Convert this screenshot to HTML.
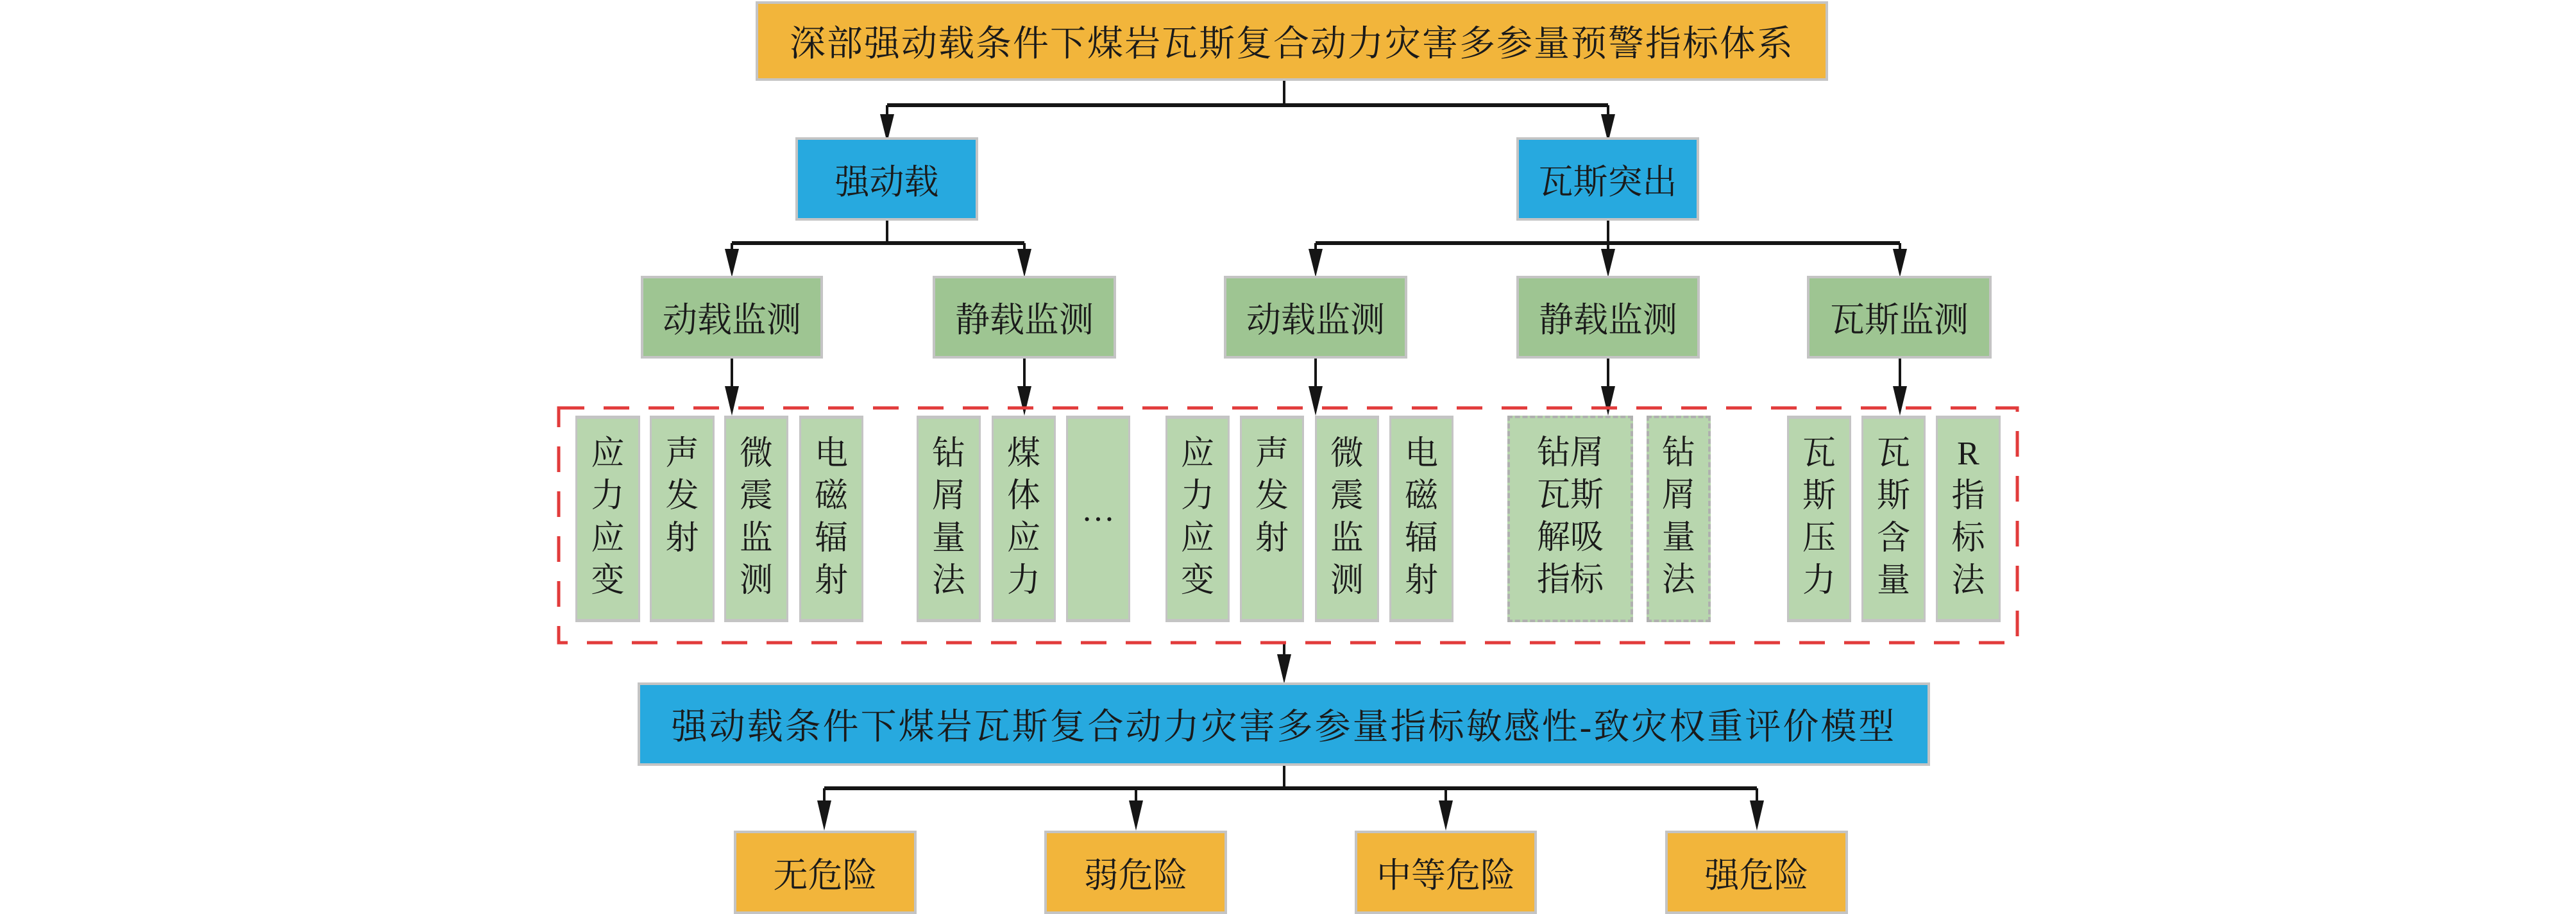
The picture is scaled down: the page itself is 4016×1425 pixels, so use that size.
<!DOCTYPE html>
<html><head><meta charset="utf-8"><style>
*{margin:0;padding:0;box-sizing:border-box}
body{width:4016px;height:1423px;background:#fff;position:relative;overflow:hidden;font-family:"Liberation Serif","Noto Serif CJK SC",serif;color:#1a1a1a}
.b{position:absolute;border:4px solid #c4c4c4;display:flex;align-items:center;justify-content:center;font-size:54px;white-space:nowrap}
.o{background:#f2b53b}.u{background:#27a9df}.g{background:#9ec592}
.l{position:absolute;top:648px;height:322px;background:#b8d6ae;border:4px solid #c4c4c4;border-width:5px 3px;font-size:52px;line-height:66px;text-align:center;padding-top:22px}
.d{border:4px dashed #b0b0b0}
svg{position:absolute;left:0;top:0}
</style></head><body>
<svg width="4016" height="1423">
<g stroke="#151515" fill="none">
<path d="M2002 124V164M1383 164H2507M1383 164V190M2507 164V190" stroke-width="4"/>
<path d="M1383 344V379M1141 379H1597M1141 379V400M1597 379V400" stroke-width="4"/>
<path d="M2507 344V379M2051 379H2962M2051 379V400M2507 379V400M2962 379V400" stroke-width="4"/>
<path d="M1141 558V610M1597 558V610M2051 558V610M2507 558V610M2962 558V610" stroke-width="4"/>
<path d="M2002 1002V1030M2002 1194V1229M1285 1229H2739M1285 1229V1255M1771 1229V1255M2254 1229V1255M2739 1229V1255" stroke-width="4"/>
<path d="M1383 164H2507M1141 379H1597M2051 379H2962M1285 1229H2739" stroke-width="6"/>
</g>
<g fill="#151515">
<path d="M1372 178L1394 178L1383 222Z"/><path d="M2496 178L2518 178L2507 222Z"/>
<path d="M1130 388L1152 388L1141 432Z"/><path d="M1586 388L1608 388L1597 432Z"/>
<path d="M2040 388L2062 388L2051 432Z"/><path d="M2496 388L2518 388L2507 432Z"/><path d="M2951 388L2973 388L2962 432Z"/>
<path d="M1130 602L1152 602L1141 648Z"/><path d="M1586 602L1608 602L1597 648Z"/><path d="M2040 602L2062 602L2051 648Z"/><path d="M2496 602L2518 602L2507 648Z"/><path d="M2951 602L2973 602L2962 648Z"/>
<path d="M1991 1020L2013 1020L2002 1066Z"/>
<path d="M1274 1248L1296 1248L1285 1295Z"/><path d="M1760 1248L1782 1248L1771 1295Z"/><path d="M2243 1248L2265 1248L2254 1295Z"/><path d="M2728 1248L2750 1248L2739 1295Z"/>
</g>
<rect x="871" y="636" width="2274" height="366" fill="none" stroke="#e23b3b" stroke-width="5" stroke-dasharray="40 30"/>
</svg>
<div class="b o" style="left:1178px;top:2px;width:1672px;height:124px;font-size:56px;letter-spacing:2px">深部强动载条件下煤岩瓦斯复合动力灾害多参量预警指标体系</div>
<div class="b u" style="left:1240px;top:214px;width:285px;height:130px">强动载</div>
<div class="b u" style="left:2364px;top:214px;width:285px;height:130px">瓦斯突出</div>
<div class="b g" style="left:999px;top:430px;width:284px;height:129px">动载监测</div>
<div class="b g" style="left:1454px;top:430px;width:286px;height:129px">静载监测</div>
<div class="b g" style="left:1908px;top:430px;width:286px;height:129px">动载监测</div>
<div class="b g" style="left:2364px;top:430px;width:286px;height:129px">静载监测</div>
<div class="b g" style="left:2817px;top:430px;width:288px;height:129px">瓦斯监测</div>
<div class="l" style="left:897px;width:101px">应<br>力<br>应<br>变</div>
<div class="l" style="left:1013px;width:101px">声<br>发<br>射</div>
<div class="l" style="left:1129px;width:100px">微<br>震<br>监<br>测</div>
<div class="l" style="left:1246px;width:100px">电<br>磁<br>辐<br>射</div>
<div class="l" style="left:1429px;width:100px">钻<br>屑<br>量<br>法</div>
<div class="l" style="left:1546px;width:100px">煤<br>体<br>应<br>力</div>
<div class="l" style="left:1662px;width:100px;padding-top:110px">…</div>
<div class="l" style="left:1817px;width:100px">应<br>力<br>应<br>变</div>
<div class="l" style="left:1933px;width:100px">声<br>发<br>射</div>
<div class="l" style="left:2050px;width:100px">微<br>震<br>监<br>测</div>
<div class="l" style="left:2166px;width:100px">电<br>磁<br>辐<br>射</div>
<div class="l d" style="left:2350px;width:196px">钻屑<br>瓦斯<br>解吸<br>指标</div>
<div class="l d" style="left:2567px;width:100px">钻<br>屑<br>量<br>法</div>
<div class="l" style="left:2786px;width:100px">瓦<br>斯<br>压<br>力</div>
<div class="l" style="left:2902px;width:100px">瓦<br>斯<br>含<br>量</div>
<div class="l" style="left:3018px;width:101px">R<br>指<br>标<br>法</div>
<div class="b u" style="left:994px;top:1064px;width:2015px;height:130px;font-size:56px;letter-spacing:3px">强动载条件下煤岩瓦斯复合动力灾害多参量指标敏感性-致灾权重评价模型</div>
<div class="b o" style="left:1144px;top:1295px;width:285px;height:130px">无危险</div>
<div class="b o" style="left:1628px;top:1295px;width:285px;height:130px">弱危险</div>
<div class="b o" style="left:2112px;top:1295px;width:284px;height:130px">中等危险</div>
<div class="b o" style="left:2596px;top:1295px;width:285px;height:130px">强危险</div>
</body></html>
